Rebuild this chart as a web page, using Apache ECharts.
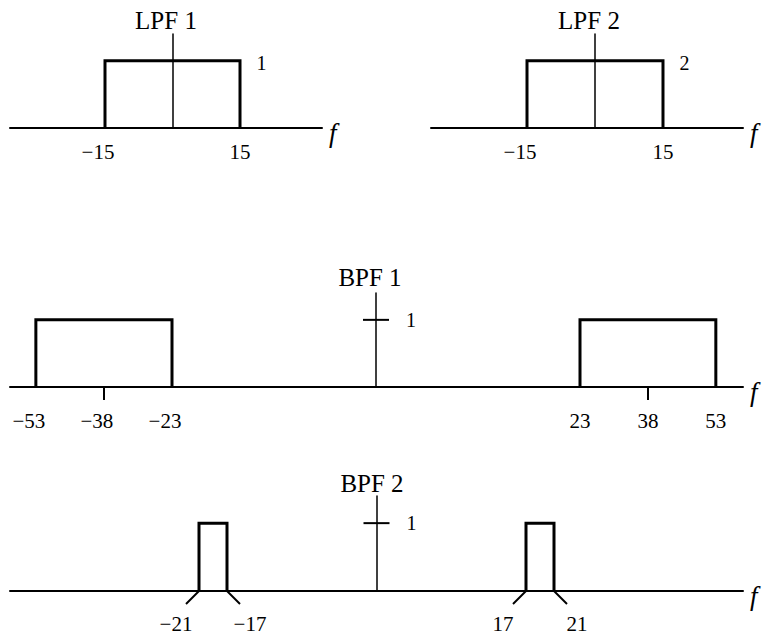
<!DOCTYPE html>
<html>
<head>
<meta charset="utf-8">
<title>LPF / BPF</title>
<script src="https://cdn.jsdelivr.net/npm/echarts@6/dist/echarts.min.js"></script>
<style>
    html, body { margin: 0; padding: 0; background: #fff; }
    #main { width: 765px; height: 639px; }
</style>
</head>
<body>
<div id="main"></div>
<script>
// filter data (frequency values)
var lpfBand = [-15, 15];
var lpf1Gain = 1;
var lpf2Gain = 2;
var bpf1Bands = [[-53, -23], [23, 53]];
var bpf1Centers = [-38, 38];
var bpf2Bands = [[-21, -17], [17, 21]];
var bpfGain = 1;
var bpfTicks = [1];

(function () {
    var myChart = echarts.init(document.getElementById('main'), null, { renderer: 'svg' });
    var serif = "'Liberation Serif', 'Times New Roman', serif";
    var black = '#000';

    // negative numbers: real minus sign, digits centred under the value
    function numText(v) {
        return v < 0 ? '\u2212' + Math.abs(v) : String(v);
    }
    function richNum(v) {
        return v < 0 ? '{n|' + numText(v) + '}' : numText(v);
    }
    var numRich = { n: { padding: [0, 14, 0, 0], fontSize: 21, fontFamily: serif, color: black } };

    function rect(lo, hi, g) {
        return [[lo, 0], [lo, g], [hi, g], [hi, 0]];
    }

    // one grid per panel; the BPF panels are split in three (bands drawn narrower than the gap)
    var grids = [
        { left: 10, top: 34, width: 312, height: 94 },
        { left: 431, top: 34, width: 312, height: 94 },
        { left: 10, top: 293, width: 162, height: 94 },
        { left: 172, top: 293, width: 408, height: 94 },
        { left: 580, top: 293, width: 163, height: 94 },
        { left: 10, top: 496, width: 217, height: 95 },
        { left: 227, top: 496, width: 299, height: 95 },
        { left: 526, top: 496, width: 217, height: 95 }
    ].map(function (g) {
        g.containLabel = false;
        g.outerBoundsMode = 'none';
        return g;
    });

    function xAxis(idx, min, max, opts) {
        opts = opts || {};
        var ax = {
            type: 'value',
            gridIndex: idx,
            min: min,
            max: max,
            axisLine: { show: true, lineStyle: { color: black, width: 2 } },
            axisTick: { show: false },
            splitLine: { show: false },
            axisLabel: { show: false }
        };
        if (opts.labels) {
            ax.axisLabel = {
                show: true,
                customValues: opts.labels,
                showMinLabel: true,
                showMaxLabel: true,
                margin: opts.margin,
                formatter: richNum,
                fontSize: 21,
                fontFamily: serif,
                color: black,
                rich: numRich
            };
        }
        if (opts.ticks) {
            ax.axisTick = {
                show: true,
                customValues: opts.ticks,
                length: 13,
                lineStyle: { color: black, width: 2 }
            };
        }
        if (opts.name) {
            // italic f, pushed a little below the axis line
            ax.name = '{f|f}';
            ax.nameLocation = 'end';
            ax.nameGap = 7;
            ax.nameTextStyle = {
                rich: {
                    f: {
                        fontFamily: serif,
                        fontStyle: 'italic',
                        fontSize: 27,
                        color: black,
                        padding: [10, 0, 0, 0]
                    }
                }
            };
        }
        return ax;
    }

    function yAxis(idx, max, hidden) {
        return {
            type: 'value',
            gridIndex: idx,
            min: 0,
            max: max,
            show: hidden ? false : true,
            axisLine: { show: true, onZero: true, lineStyle: { color: black, width: 1.5 } },
            axisTick: { show: false },
            splitLine: { show: false },
            axisLabel: { show: false }
        };
    }

    var xAxes = [
        xAxis(0, -36.11, 33.22, { labels: lpfBand, margin: 13, name: true }),
        xAxis(1, -36.18, 32.65, { labels: lpfBand, margin: 13, name: true }),
        xAxis(2, -58.7, bpf1Bands[0][1], {
            labels: [bpf1Bands[0][0], bpf1Centers[0], bpf1Bands[0][1]],
            ticks: [bpf1Centers[0]], margin: 23
        }),
        xAxis(3, bpf1Bands[0][1], bpf1Bands[1][0]),
        xAxis(4, bpf1Bands[1][0], 59, {
            labels: [bpf1Bands[1][0], bpf1Centers[1], bpf1Bands[1][1]],
            ticks: [bpf1Centers[1]], margin: 23, name: true
        }),
        xAxis(5, -48, bpf2Bands[0][1]),
        xAxis(6, bpf2Bands[0][1], bpf2Bands[1][0]),
        xAxis(7, bpf2Bands[1][0], 48, { name: true })
    ];
    var yAxes = [
        yAxis(0, 1.4),
        yAxis(1, 2.8),
        yAxis(2, 1.4, true),
        yAxis(3, 1.4),
        yAxis(4, 1.4, true),
        yAxis(5, 1.4, true),
        yAxis(6, 1.4),
        yAxis(7, 1.4, true)
    ];

    // rectangle (passband) line series
    function bandSeries(axisIdx, lo, hi, g, gainLabel) {
        var data = rect(lo, hi, g).map(function (p) { return { value: p }; });
        if (gainLabel) {
            data[2].label = {
                show: true,
                position: 'right',
                distance: 16,
                offset: [0, 2],
                formatter: function (p) { return String(p.value[1]); },
                fontSize: 20,
                fontFamily: serif,
                color: black
            };
        }
        return {
            type: 'line',
            xAxisIndex: axisIdx,
            yAxisIndex: axisIdx,
            data: data,
            symbol: 'circle',
            symbolSize: 1,
            showSymbol: true,
            itemStyle: { color: black },
            clip: false,
            silent: true,
            animation: false,
            lineStyle: { color: black, width: 3, join: 'miter', cap: 'butt' },
            label: { show: false }
        };
    }

    var series = [
        bandSeries(0, lpfBand[0], lpfBand[1], lpf1Gain, true),
        bandSeries(1, lpfBand[0], lpfBand[1], lpf2Gain, true),
        bandSeries(2, bpf1Bands[0][0], bpf1Bands[0][1], bpfGain),
        bandSeries(4, bpf1Bands[1][0], bpf1Bands[1][1], bpfGain),
        bandSeries(5, bpf2Bands[0][0], bpf2Bands[0][1], bpfGain),
        bandSeries(7, bpf2Bands[1][0], bpf2Bands[1][1], bpfGain)
    ];

    // cross tick and its label on the vertical axis
    [3, 6].forEach(function (idx) {
        series.push({
            type: 'custom',
            xAxisIndex: idx,
            yAxisIndex: idx,
            silent: true,
            animation: false,
            data: bpfTicks.map(function (v) { return [0, v]; }),
            renderItem: function (params, api) {
                var p = api.coord([api.value(0), api.value(1)]);
                return {
                    type: 'group',
                    children: [
                        {
                            type: 'line',
                            shape: { x1: p[0] - 13, y1: p[1], x2: p[0] + 13, y2: p[1] },
                            style: { stroke: black, lineWidth: 2 }
                        },
                        {
                            type: 'text',
                            x: p[0] + 30,
                            y: p[1],
                            style: {
                                text: String(api.value(1)),
                                align: 'left',
                                verticalAlign: 'middle',
                                fontSize: 20,
                                fontFamily: serif,
                                fill: black
                            }
                        }
                    ]
                };
            }
        });
    });

    // slanted edge ticks with labels for BPF 2 (lower edge leans left, upper edge right)
    [[5, bpf2Bands[0]], [7, bpf2Bands[1]]].forEach(function (item) {
        var b = item[1];
        series.push({
            type: 'custom',
            xAxisIndex: item[0],
            yAxisIndex: item[0],
            silent: true,
            animation: false,
            clip: false,
            data: [[b[0], -1], [b[1], 1]],
            renderItem: function (params, api) {
                var v = api.value(0);
                var dir = api.value(1);
                var p = api.coord([v, 0]);
                var ex = p[0] + dir * 13;
                var ey = p[1] + 13;
                return {
                    type: 'group',
                    children: [
                        {
                            type: 'line',
                            shape: { x1: p[0], y1: p[1], x2: ex, y2: ey },
                            style: { stroke: black, lineWidth: 2 }
                        },
                        {
                            type: 'text',
                            x: ex + dir * 10,
                            y: ey + 20,
                            style: {
                                text: numText(v),
                                align: 'center',
                                verticalAlign: 'middle',
                                fontSize: 21,
                                fontFamily: serif,
                                fill: black
                            }
                        }
                    ]
                };
            }
        });
    });

    // panel titles
    function titleText(text, x, y) {
        return {
            type: 'text',
            x: x,
            y: y,
            silent: true,
            style: {
                text: text,
                align: 'center',
                verticalAlign: 'middle',
                fontSize: 25,
                fontFamily: serif,
                fill: black
            }
        };
    }

    var option = {
        animation: false,
        backgroundColor: '#fff',
        textStyle: { fontFamily: serif, color: black },
        grid: grids,
        xAxis: xAxes,
        yAxis: yAxes,
        series: series,
        graphic: [
            titleText('LPF 1', 166, 20),
            titleText('LPF 2', 589, 20),
            titleText('BPF 1', 370, 277),
            titleText('BPF 2', 372, 483)
        ]
    };
    myChart.setOption(option);
    window.addEventListener('resize', function () {
        myChart.resize();
    });
})();
</script>
</body>
</html>
